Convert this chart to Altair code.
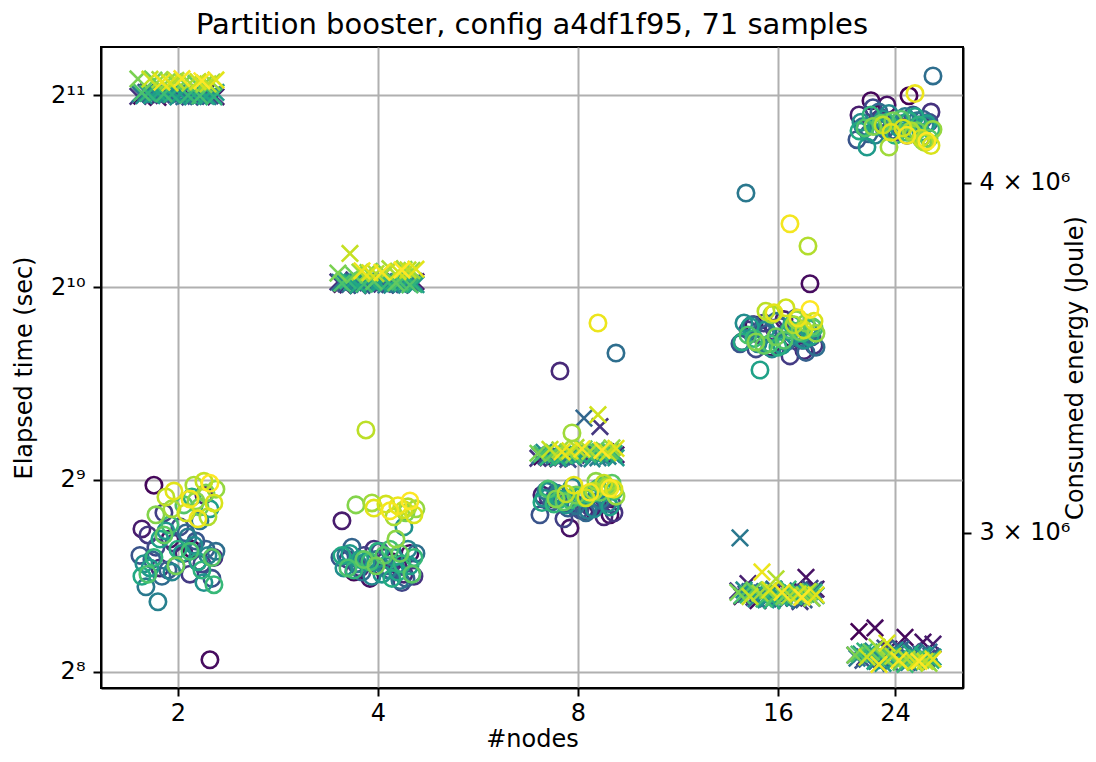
import altair as alt
import pandas as pd

TITLE = "Partition booster, config a4df1f95, 71 samples"
nodes = [2, 4, 8, 16, 24]

# Elapsed time (sec) per sample index, per node count
time_2 = [2040, 2055, 2030, 2062, 2048, 2035, 2070, 2052, 2044, 2058,
          2038, 2066, 2050, 2042, 2060, 2033, 2056, 2047, 2068, 2039,
          2053, 2045, 2061, 2036, 2057, 2049, 2064, 2041, 2054, 2046,
          2059, 2037, 2051, 2063, 2043, 2058, 2034, 2050, 2067, 2044,
          2056, 2039, 2062, 2048, 2053, 2035, 2060, 2046, 2057, 2041,
          2065, 2120, 2150, 2135, 2160, 2142, 2170, 2128, 2155, 2146,
          2165, 2138, 2158, 2132, 2168, 2150, 2140, 2162, 2145, 2172, 2155]
time_4 = [1035, 1042, 1030, 1048, 1038, 1045, 1033, 1050, 1040, 1036,
          1044, 1032, 1047, 1039, 1052, 1034, 1041, 1046, 1037, 1043,
          1031, 1049, 1038, 1045, 1035, 1040, 1047, 1033, 1042, 1036,
          1050, 1039, 1044, 1032, 1046, 1037, 1041, 1048, 1034, 1043,
          1038, 1045, 1031, 1047, 1040, 1035, 1049, 1042, 1036, 1044,
          1039, 1033, 1046, 1041, 1070, 1085, 1078, 1092, 1080, 1088,
          1082, 1095, 1076, 1090, 1157, 1084, 1079, 1093, 1087, 1081, 1090]
time_8 = [556, 562, 552, 566, 558, 560, 554, 564, 557, 561,
          553, 620, 559, 565, 555, 563, 551, 560, 557, 562,
          556, 564, 553, 639, 559, 561, 555, 566, 558, 554,
          563, 557, 560, 552, 565, 556, 561, 559, 554, 562,
          558, 564, 553, 560, 557, 563, 555, 561, 559, 566,
          562, 568, 560, 570, 565, 572, 563, 569, 566, 574,
          570, 567, 575, 564, 571, 647, 568, 573, 566, 572, 569]
time_16 = [336, 342, 331, 360, 339, 345, 352, 334, 340, 337,
           343, 330, 338, 346, 335, 341, 333, 344, 339, 336,
           340, 332, 345, 337, 342, 334, 339, 331, 415, 343,
           336, 341, 333, 338, 344, 335, 340, 332, 337, 342,
           334, 339, 343, 336, 331, 341, 338, 345, 333, 340,
           337, 342, 335, 339, 344, 336, 341, 338, 343, 334,
           340, 337, 358, 342, 336, 339, 344, 338, 367, 341, 335]
time_24 = [296, 290, 300, 285, 278, 283, 270, 275, 268, 280,
           272, 266, 277, 269, 274, 265, 279, 271, 267, 276,
           270, 273, 264, 278, 268, 275, 266, 272, 269, 274,
           267, 271, 276, 265, 273, 269, 277, 264, 270, 275,
           268, 272, 266, 274, 270, 267, 276, 263, 271, 269,
           273, 266, 270, 268, 275, 265, 272, 267, 269, 264,
           280, 268, 271, 266, 270, 265, 284, 268, 263, 267, 266]

# Consumed energy (kJ) per sample index, per node count
energy_2 = [2960, 3120, 2703, 2985, 2930, 3010, 2950, 3095, 2915, 2975,
            2940, 2995, 2900, 3050, 2925, 2965, 3015, 2890, 2945, 2980,
            2910, 2960, 2935, 3000, 2895, 2955, 2920, 3030, 2870, 2990,
            2835, 2945, 2905, 2970, 2925, 2880, 3005, 2950, 2915, 3060,
            2985, 2930, 2895, 3090, 2960, 2910, 2940, 2875, 3020, 2955,
            2900, 3070, 2940, 2995, 3065, 2920, 3100, 3045, 3080, 3110,
            3060, 3120, 3040, 3090, 3130, 3050, 3075, 3105, 3035, 3085, 3125]
energy_4 = [2930, 2905, 2950, 2890, 2920, 3030, 2940, 2900, 2915, 2960,
            2895, 2935, 2910, 2945, 2880, 2925, 2955, 2900, 2940, 2915,
            2930, 2890, 2965, 2920, 2905, 2950, 2935, 2885, 2945, 2910,
            2925, 2960, 2895, 2940, 2915, 3015, 2930, 2900, 2950, 2920,
            2935, 2905, 2945, 2890, 2955, 2925, 2910, 2940, 2930, 2960,
            2915, 2945, 2900, 2935, 2950, 2920, 3050, 3070, 2985, 3060,
            3075, 3040, 3065, 3265, 3058, 3072, 3045, 3062, 3068, 3055, 3080]
energy_8 = [3060, 3085, 3045, 3012, 3070, 3095, 3055, 3040, 3427, 3075,
            3050, 3090, 3065, 3035, 3080, 3100, 3058, 3072, 3045, 3088,
            3062, 3110, 3078, 3050, 3093, 3478, 3068, 3082, 3105, 3056,
            3098, 3074, 3115, 3060, 3087, 3120, 3070, 3095, 3108, 3065,
            3085, 3112, 3076, 3100, 3090, 3118, 3072, 3105, 3083, 3096,
            3110, 3088, 3125, 3078, 3102, 3095, 3118, 3085, 3130, 3092,
            3257, 3105, 3115, 3098, 3125, 3088, 3110, 3120, 3565, 3102, 3112]
energy_16 = [3520, 3560, 3682, 3495, 3540, 3510, 3575, 3485, 3530, 3550,
             3500, 3545, 3470, 3565, 3515, 3490, 3555, 3525, 3505, 3580,
             3535, 3480, 3560, 3510, 3545, 3495, 3570, 3520, 3967, 3540,
             3505, 3550, 3490, 3530, 3565, 3515, 3545, 3500, 3555, 3525,
             3430, 3540, 3510, 3560, 3495, 3535, 3520, 3550, 3505, 3545,
             3530, 3515, 3555, 3500, 3540, 3525, 3565, 3510, 3575, 3535,
             3590, 3560, 3798, 3600, 3545, 3610, 3570, 3595, 3580, 3868, 3605]
energy_24 = [4297, 4280, 4200, 4265, 4170, 4230, 4190, 4150, 4210, 4175,
             4240, 4185, 4160, 4220, 4195, 4255, 4170, 4205, 4145, 4230,
             4180, 4215, 4165, 4200, 4240, 4368, 4175, 4210, 4190, 4225,
             4160, 4195, 4235, 4180, 4205, 4170, 4215, 4185, 4120, 4200,
             4190, 4225, 4175, 4210, 4160, 4195, 4230, 4180, 4205, 4170,
             4185, 4215, 4150, 4200, 4175, 4210, 4140, 4190, 4165, 4180,
             4120, 4175, 4135, 4195, 4150, 4185, 4125, 4170, 4305, 4160, 4140]

# horizontal jitter (hundredths of a doubling) per sample index
jitter_time = [-18, 5, -10, 14, -3, 19, -15, 8, -7, 2,
               -20, 11, -1, 16, -12, 6, -5, 18, -16, 9,
               -8, 13, -2, 3, -14, 17, -9, 4, -19, 10,
               -4, 15, -11, 7, -17, 12, 0, -6, 19, -13,
               1, 14, -10, 8, -3, 18, -15, 5, -7, 11,
               -18, 16, -2, 9, -12, 3, -20, 13, -5, 17,
               -9, 6, -1, 15, -14, 10, -4, 19, -8, 2, 12]
jitter_energy = [7, -12, 16, -4, 10, -18, 3, 13, -9, -2,
                 18, -15, 6, -7, 12, -11, 1, 17, -19, 9,
                 -5, 14, -13, 4, -8, 19, -1, 11, -16, 5,
                 -10, 15, -3, 8, -17, 13, -6, 2, -14, 16,
                 -9, 10, -18, 7, 0, 12, -12, 18, -4, 6,
                 -15, 3, 17, -7, 11, -1, 14, -11, 9, 19,
                 -3, 8, 15, -6, 13, 4, 18, -2, 10, 6, 16]

left_tick_values = [256, 512, 1024, 2048]
left_tick_labels = ["2⁸", "2⁹", "2¹⁰", "2¹¹"]
right_tick_values = [3000000, 4000000]
right_tick_labels = ["3 × 10⁶", "4 × 10⁶"]
x_tick_values = [2, 4, 8, 16, 24]

times = [time_2, time_4, time_8, time_16, time_24]
energies = [energy_2, energy_4, energy_8, energy_16, energy_24]

t_rows, e_rows = [], []
for n, tl, el in zip(nodes, times, energies):
    for i, v in enumerate(tl):
        j = jitter_time[i % len(jitter_time)]
        t_rows.append({"node": n, "idx": i, "x": n * 2 ** (j / 100), "time": v})
    for i, v in enumerate(el):
        j = jitter_energy[i % len(jitter_energy)]
        e_rows.append({"node": n, "idx": i, "x": n * 2 ** (j / 100), "energy": v * 1000})
df_t = pd.DataFrame(t_rows)
df_e = pd.DataFrame(e_rows)


def label_expr(vals, labels):
    expr = "''"
    for v, l in zip(vals, labels):
        expr = f"(datum.value == {v}) ? '{l}' : " + expr
    return expr


x_enc = alt.X("x:Q",
              scale=alt.Scale(type="log", base=2, domain=[1.532, 30.38], nice=False),
              axis=alt.Axis(values=x_tick_values, labelExpr="datum.value", title="#nodes",
                            grid=True, labelPadding=5, titlePadding=2))
color_enc = alt.Color("idx:Q", scale=alt.Scale(scheme="viridis", domain=[0, 70]), legend=None)

X_SHAPE = "M-1,-1L1,1M-1,1L1,-1"

time_layer = alt.Chart(df_t).mark_point(
    shape=X_SHAPE, filled=False, strokeWidth=2.6, size=270, opacity=1
).encode(
    x=x_enc,
    y=alt.Y("time:Q",
            scale=alt.Scale(type="log", base=2, domain=[241.6, 2435], nice=False),
            axis=alt.Axis(values=left_tick_values,
                          labelExpr=label_expr(left_tick_values, left_tick_labels),
                          title="Elapsed time (sec)", orient="left", grid=True,
                          titlePadding=14)),
    color=color_enc,
)

energy_layer = alt.Chart(df_e).mark_point(
    shape="circle", filled=False, strokeWidth=2.6, size=270, opacity=1
).encode(
    x=x_enc,
    y=alt.Y("energy:Q",
            scale=alt.Scale(type="log", base=10, domain=[2.641e6, 4.473e6], nice=False),
            axis=alt.Axis(values=right_tick_values,
                          labelExpr=label_expr(right_tick_values, right_tick_labels),
                          title="Consumed energy (Joule)", orient="right", grid=False,
                          titleAngle=270, titlePadding=18)),
    color=color_enc,
)

chart = alt.layer(time_layer, energy_layer).resolve_scale(
    y="independent"
).properties(
    width=862,
    height=641,
    background="white",
    title=alt.TitleParams(TITLE, fontSize=29, font="DejaVu Sans", fontWeight="normal",
                          color="black", offset=7),
    autosize=alt.AutoSizeParams(type="none"),
    padding={"left": 93, "top": 39, "right": 125, "bottom": 66},
).configure_axis(
    labelFont="DejaVu Sans", titleFont="DejaVu Sans",
    labelFontSize=24, titleFontSize=24, titleFontWeight="normal",
    labelColor="black", titleColor="black",
    tickColor="black", tickSize=8, tickWidth=2,
    domainColor="black", domainWidth=2,
    gridColor="#b0b0b0", gridWidth=2, labelPadding=8,
).configure_view(
    stroke="black", strokeWidth=2
)

chart.save("out.html", embed_options={"renderer": "svg", "actions": False})
